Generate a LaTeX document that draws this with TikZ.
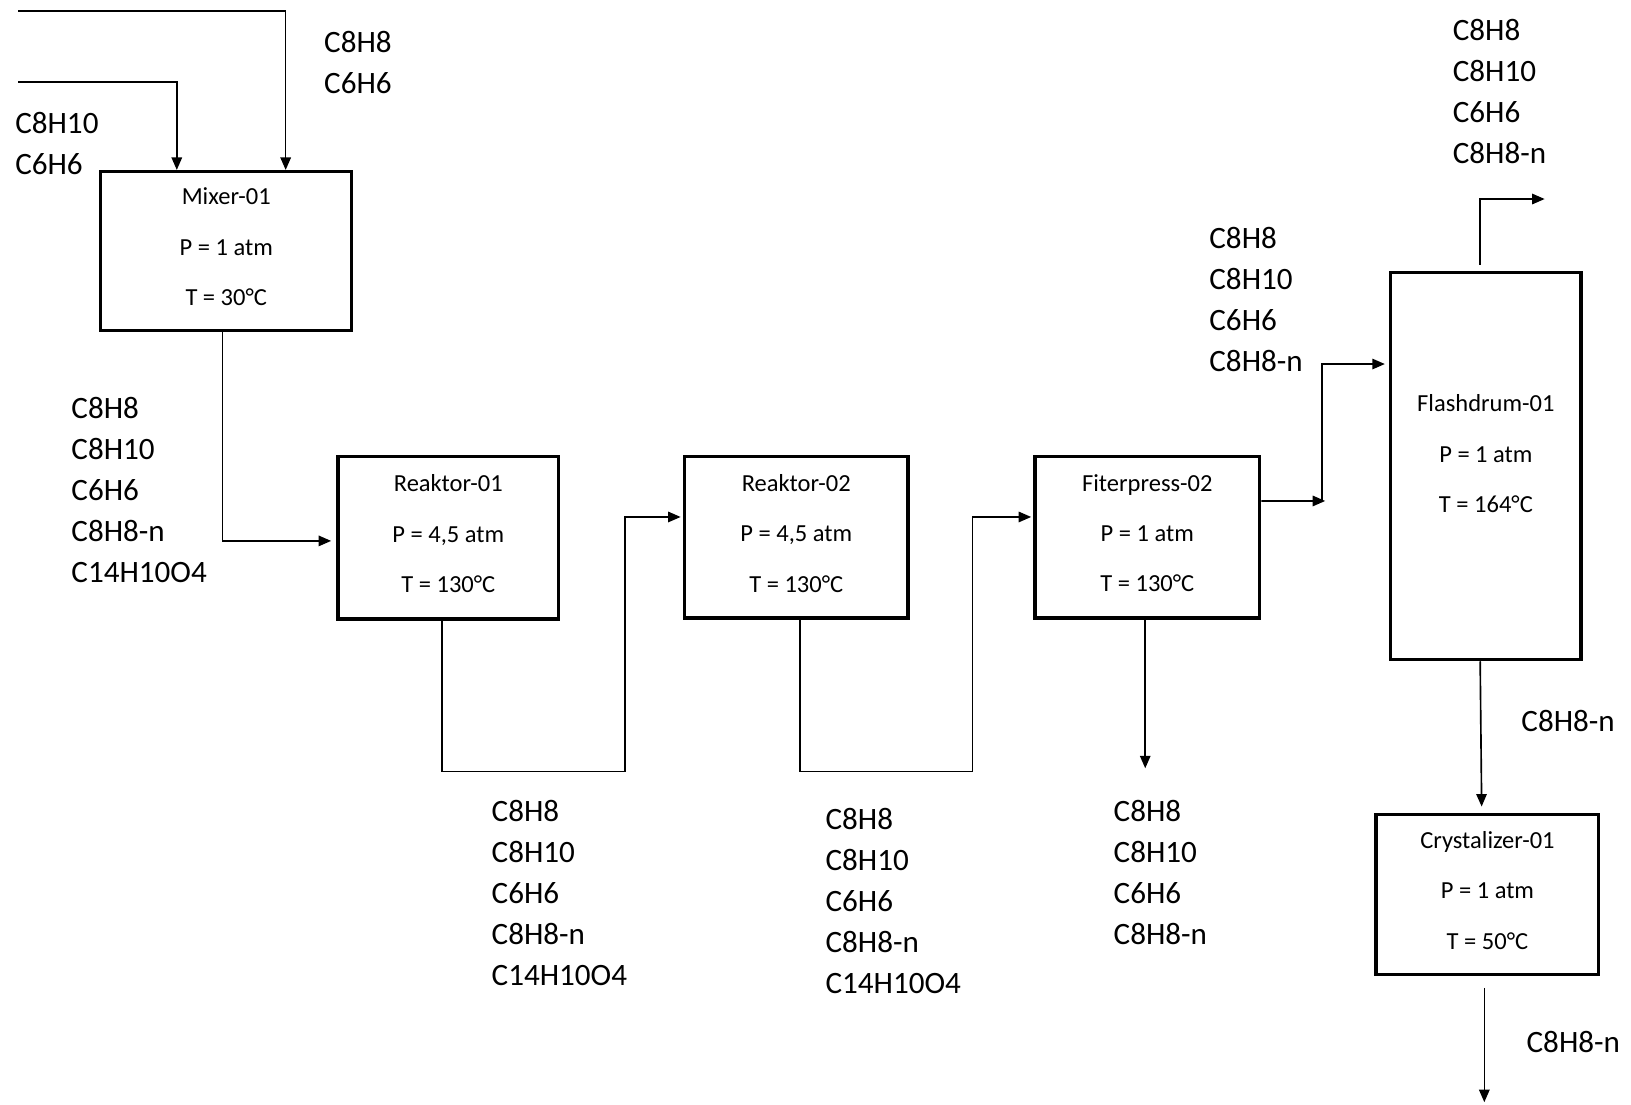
\documentclass[tikz,border=0pt]{standalone}
\usepackage{fontspec}
\setmainfont{Carlito}
\usetikzlibrary{arrows.meta}
\tikzset{
  unit/.style={draw, line width=0.9pt, align=center, inner sep=0pt,
    font=\fontsize{6.7}{13.8}\selectfont, text depth=2.3pt},
  stream/.style={line width=0.45pt, -{Triangle[length=1.2mm,width=1mm]}},
  comp/.style={anchor=north west, align=left, inner sep=0pt,
    font=\fontsize{8.5}{11.2}\selectfont},
}
\begin{document}
\begin{tikzpicture}[x=0.01cm, y=-0.01cm]
    \useasboundingbox (0, 0) rectangle (1568, 1062) ;
    \node[unit, minimum width=2.41cm, minimum height=1.53cm] (mixer) at (217.5, 241.5)
      {Mixer-01\\P = 1 atm\\T = 30°C} ;
    \node[unit, minimum width=2.12cm, minimum height=1.56cm] (reaktor1) at (431, 517)
      {Reaktor-01\\P = 4,5 atm\\T = 130°C} ;
    \node[unit, minimum width=2.15cm, minimum height=1.55cm] (reaktor2) at (765.5, 516.5)
      {Reaktor-02\\P = 4,5 atm\\T = 130°C} ;
    \node[unit, minimum width=2.16cm, minimum height=1.55cm] (filter) at (1103, 516.5)
      {Fiterpress-02\\P = 1 atm\\T = 130°C} ;
    \node[unit, minimum width=1.83cm, minimum height=3.72cm, text depth=6.8pt] (flash) at (1428.5, 448)
      {Flashdrum-01\\P = 1 atm\\T = 164°C} ;
    \node[unit, minimum width=2.14cm, minimum height=1.54cm] (cryst) at (1430, 860)
      {Crystalizer-01\\P = 1 atm\\T = 50°C} ;
    \node[comp] (feedA) at (311, 29) {C8H8\\C6H6} ;
    \node[comp] (feedB) at (14, 107) {C8H10\\C6H6} ;
    \node[comp] (mixout) at (68, 381) {C8H8\\C8H10\\C6H6\\C8H8-n\\C14H10O4} ;
    \node[comp] (r1out) at (472, 769) {C8H8\\C8H10\\C6H6\\C8H8-n\\C14H10O4} ;
    \node[comp] (r2out) at (793, 776) {C8H8\\C8H10\\C6H6\\C8H8-n\\C14H10O4} ;
    \node[comp] (cake) at (1070, 769) {C8H8\\C8H10\\C6H6\\C8H8-n} ;
    \node[comp] (filtrate) at (1162, 218) {C8H8\\C8H10\\C6H6\\C8H8-n} ;
    \node[comp] (vapour) at (1396, 18) {C8H8\\C8H10\\C6H6\\C8H8-n} ;
    \node[comp] (liquid) at (1462, 682) {C8H8-n} ;
    \node[comp] (crystal) at (1467, 991) {C8H8-n} ;
    \coordinate (inA) at (17.6, 10.3) ;
    \coordinate (inB) at (17.6, 79) ;
    \coordinate (tee) at (1271, 481.6) ;
    \draw[stream] (inA) -| ([xshift=0.571cm]mixer.north) ;
    \draw[stream] (inB) -| ([xshift=-0.475cm]mixer.north) ;
    \draw[stream, shorten >=0.5mm] ([xshift=-0.035cm]mixer.south) |- ([yshift=-0.03cm]reaktor1.west) ;
    \draw[stream, shorten >=0.2mm] ([xshift=-0.06cm]reaktor1.south) -- ++(0, 145) -- ++(176, 0)
      |- ([yshift=0.195cm]reaktor2.west) ;
    \draw[stream, shorten >=0.2mm] ([xshift=0.035cm]reaktor2.south) -- ++(0, 146) -- ++(166, 0)
      |- ([yshift=0.195cm]filter.west) ;
    \draw[stream] ([xshift=-0.02cm]filter.south) -- ++(0, 143) ;
    \draw[stream, shorten >=-0.3mm] ([yshift=0.349cm]filter.east) -- (tee) ;
    \draw[stream, shorten >=0.4mm] (tee) |- ([yshift=0.98cm]flash.west) ;
    \draw[stream] ([xshift=-0.055cm, yshift=0.06cm]flash.north) -- ++(0, -63) -- ++(62, 0) ;
    \draw[stream, shorten >=0.6mm] ([xshift=-0.055cm]flash.south) -- ([xshift=-0.055cm]cryst.north) ;
    \draw[stream] ([xshift=-0.03cm, yshift=-0.11cm]cryst.south) -- ++(0, 110) ;
\end{tikzpicture}
\end{document}
